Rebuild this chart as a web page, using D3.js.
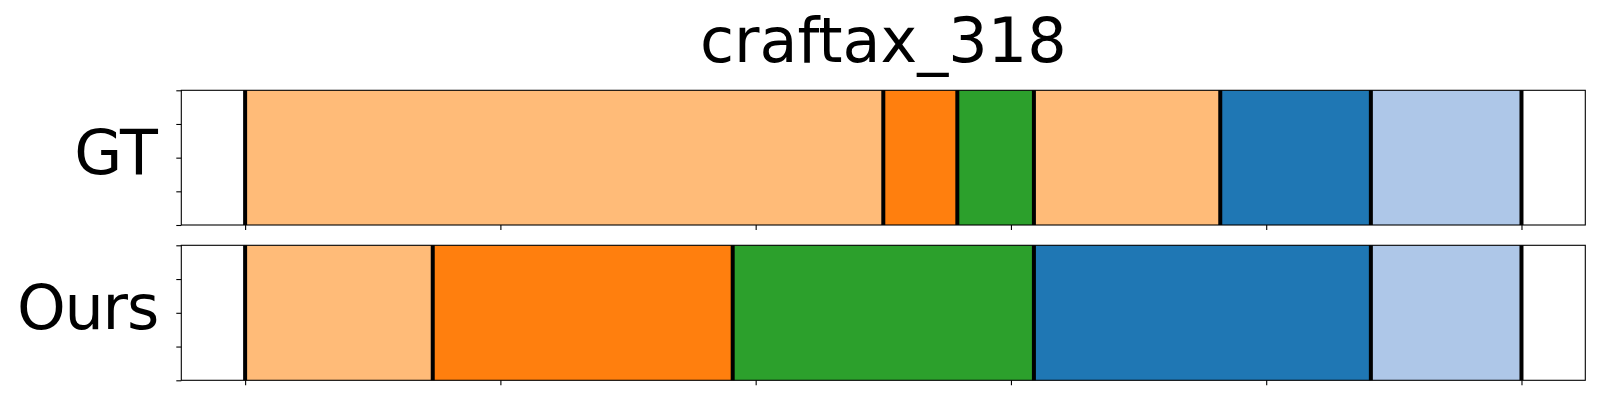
<!DOCTYPE html>
<html>
<head>
<meta charset="utf-8">
<script src="https://cdn.jsdelivr.net/npm/d3@7"></script>
<style>
  html, body { margin: 0; padding: 0; background: #fff; }
  svg { display: block; }
  text { font-family: "DejaVu Sans", sans-serif; }
</style>
</head>
<body>
<svg id="chart" width="1600" height="400"></svg>
<script>
// ---- data ----
const title = "craftax_318";
const rowNames = ["GT", "Ours"];
const gtBoundaries = [0, 250, 279, 309, 382, 441, 500];
const gtClasses = [3, 2, 4, 3, 0, 1];
const oursBoundaries = [0, 73.5, 191, 309, 441, 500];
const oursClasses = [3, 2, 4, 0, 1];
const xTickValues = [0, 100, 200, 300, 400, 500];
const yTickValues = [0, 0.25, 0.5, 0.75, 1];
const palette = ["#1f77b4", "#aec7e8", "#ff7f0e", "#ffbb78", "#2ca02c"];

// ---- layout ----
const svg = d3.select("#chart");
const left = 181.3, right = 1585.3;
const panels = [
  { name: rowNames[0], bounds: gtBoundaries, classes: gtClasses, top: 90.3, bottom: 225, spacing: 0 },
  { name: rowNames[1], bounds: oursBoundaries, classes: oursClasses, top: 245.3, bottom: 380.3, spacing: -1.2 }
];
const xMax = gtBoundaries[gtBoundaries.length - 1];
const margin = xMax * 0.05;
const x = d3.scaleLinear().domain([-margin, xMax + margin]).range([left, right]);

svg.append("text")
  .attr("x", (left + right) / 2)
  .attr("y", 61.7)
  .attr("text-anchor", "middle")
  .attr("font-size", 62)
  .attr("fill", "#000")
  .text(title);

panels.forEach(p => {
  const y = d3.scaleLinear().domain([0, 1]).range([p.bottom, p.top]);
  const g = svg.append("g");
  const segs = p.classes.map((c, i) => ({ x0: p.bounds[i], x1: p.bounds[i + 1], c }));

  g.selectAll("rect.seg").data(segs).enter().append("rect")
    .attr("class", "seg")
    .attr("x", d => x(d.x0))
    .attr("width", d => x(d.x1) - x(d.x0))
    .attr("y", y(1))
    .attr("height", y(0) - y(1))
    .attr("fill", d => palette[d.c]);

  g.selectAll("line.sep").data(p.bounds).enter().append("line")
    .attr("class", "sep")
    .attr("x1", d => x(d)).attr("x2", d => x(d))
    .attr("y1", y(1)).attr("y2", y(0))
    .attr("stroke", "#000")
    .attr("stroke-width", 4);

  // frame
  g.append("rect")
    .attr("x", left).attr("y", p.top)
    .attr("width", right - left).attr("height", p.bottom - p.top)
    .attr("fill", "none").attr("stroke", "#000").attr("stroke-width", 1.1);

  // axes ticks
  const xa = g.append("g").attr("transform", `translate(0,${p.bottom})`)
    .call(d3.axisBottom(x).tickValues(xTickValues).tickFormat("").tickSize(5).tickSizeOuter(0));
  xa.select(".domain").remove();
  xa.selectAll("line").attr("stroke-width", 1.1);

  const ya = g.append("g").attr("transform", `translate(${left},0)`)
    .call(d3.axisLeft(y).tickValues(yTickValues).tickFormat("").tickSize(5).tickSizeOuter(0));
  ya.select(".domain").remove();
  ya.selectAll("line").attr("stroke-width", 1.1);

  // row label
  svg.append("text")
    .attr("x", 158)
    .attr("y", (p.top + p.bottom) / 2 + 16.5)
    .attr("text-anchor", "end")
    .attr("font-size", 62)
    .attr("letter-spacing", p.spacing)
    .attr("fill", "#000")
    .text(p.name);
});
</script>
</body>
</html>
